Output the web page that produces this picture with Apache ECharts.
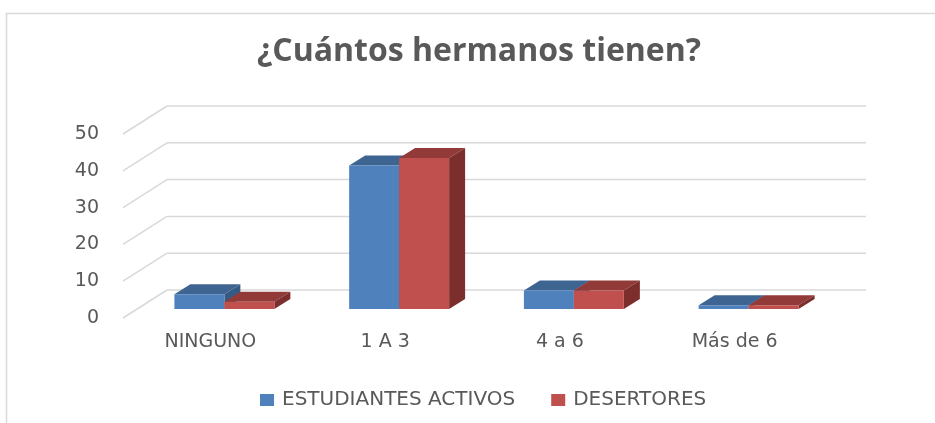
<!DOCTYPE html>
<html>
<head>
<meta charset="utf-8">
<style>
  html, body { margin: 0; padding: 0; background: #fff; }
  #chart { width: 935px; height: 423px; }
</style>
<script src="https://cdn.jsdelivr.net/npm/echarts@6/dist/echarts.min.js"></script>
</head>
<body>
<div id="chart"></div>
<script>
// datos
const categorias = ['NINGUNO', '1 A 3', '4 a 6', 'Más de 6'];
const activos = [4, 39, 5, 1];
const desertores = [2, 41, 5, 1];
const marcasY = [0, 10, 20, 30, 40, 50];

const TEXTO = '#595959';
const FONDO_D = [44, -28];   // profundidad del piso / pared
const BARRA_D = [16, -10];   // profundidad de cada barra
const BARRA_OFF = [14, -9];  // cara frontal de la barra respecto al plano frontal

function renderPared(params, api) {
  const cs = params.coordSys;
  const y = api.coord([0, api.value(0)])[1];
  const x0 = cs.x, x1 = cs.x + cs.width;
  const estilo = { stroke: '#d9d9d9', lineWidth: 1.5, fill: null };
  return {
    type: 'group',
    children: [
      { type: 'line', shape: { x1: x0, y1: y, x2: x0 + FONDO_D[0], y2: y + FONDO_D[1] }, style: estilo },
      { type: 'line', shape: { x1: x0 + FONDO_D[0], y1: y + FONDO_D[1], x2: x1 + FONDO_D[0], y2: y + FONDO_D[1] }, style: estilo }
    ]
  };
}

function hacerBarra(lado, colores) {
  return function (params, api) {
    const base = api.coord([api.value(0), 0]);
    const tope = api.coord([api.value(0), api.value(1)]);
    const anchoCat = api.size([1, 0])[0];
    const w = anchoCat * 0.286;
    const xa = base[0] + BARRA_OFF[0] + (lado === 0 ? -w : 0);
    const xb = xa + w;
    const yb = base[1] + BARRA_OFF[1];
    const yt = tope[1] + BARRA_OFF[1];
    const dx = BARRA_D[0], dy = BARRA_D[1];
    return {
      type: 'group',
      children: [
        { type: 'polygon', shape: { points: [[xa, yt], [xa + dx, yt + dy], [xb + dx, yt + dy], [xb, yt]] }, style: { fill: colores[1] } },
        { type: 'polygon', shape: { points: [[xb, yt], [xb + dx, yt + dy], [xb + dx, yb + dy], [xb, yb]] }, style: { fill: colores[2] } },
        { type: 'rect', shape: { x: xa, y: yt, width: w, height: yb - yt }, style: { fill: colores[0] } }
      ]
    };
  };
}

const chart = echarts.init(document.getElementById('chart'), null, { renderer: 'canvas' });

chart.setOption({
  animation: false,
  backgroundColor: '#fff',
  graphic: [{
    type: 'rect', left: 4, top: 11, shape: { width: 1000, height: 500 },
    style: { fill: null, stroke: '#d9d9d9', lineWidth: 1.5 }, silent: true
  }],
  title: {
    text: '¿Cuántos hermanos tienen?',
    left: 252,
    top: 31,
    textStyle: { fontFamily: 'Open Sans', fontWeight: 'bold', fontSize: 32, color: TEXTO }
  },
  legend: {
    data: [
      { name: 'ESTUDIANTES ACTIVOS', itemStyle: { color: '#4f81bd' } },
      { name: 'DESERTORES', itemStyle: { color: '#c0504d' } }
    ],
    top: 385,
    left: 255,
    icon: 'rect',
    itemWidth: 14,
    itemHeight: 12,
    itemGap: 36,
    textStyle: { fontFamily: 'DejaVu Sans', fontSize: 20, color: TEXTO, padding: [0, 0, 0, 3] }
  },
  grid: { left: 123, right: 113, top: 134, bottom: 105 },
  xAxis: {
    type: 'category',
    data: categorias,
    axisLine: { show: false },
    axisTick: { show: false },
    axisLabel: { margin: 15, fontFamily: 'DejaVu Sans', fontSize: 19, color: TEXTO }
  },
  yAxis: {
    type: 'value',
    min: 0,
    max: 50,
    interval: 10,
    axisLine: { show: false },
    axisTick: { show: false },
    splitLine: { show: false },
    axisLabel: { margin: 24, fontFamily: 'DejaVu Sans', fontSize: 19, color: TEXTO }
  },
  series: [
    {
      name: 'pared',
      type: 'custom',
      silent: true,
      renderItem: renderPared,
      data: marcasY.map(v => [v]),
      encode: { y: 0 }
    },
    {
      name: 'ESTUDIANTES ACTIVOS',
      type: 'custom',
      renderItem: hacerBarra(0, ['#4f81bd', '#3e6591', '#375a85']),
      data: activos.map((v, i) => [i, v]),
      encode: { x: 0, y: 1 }
    },
    {
      name: 'DESERTORES',
      type: 'custom',
      renderItem: hacerBarra(1, ['#c0504d', '#923a37', '#7b2e2c']),
      data: desertores.map((v, i) => [i, v]),
      encode: { x: 0, y: 1 }
    }
  ]
});
</script>
</body>
</html>
